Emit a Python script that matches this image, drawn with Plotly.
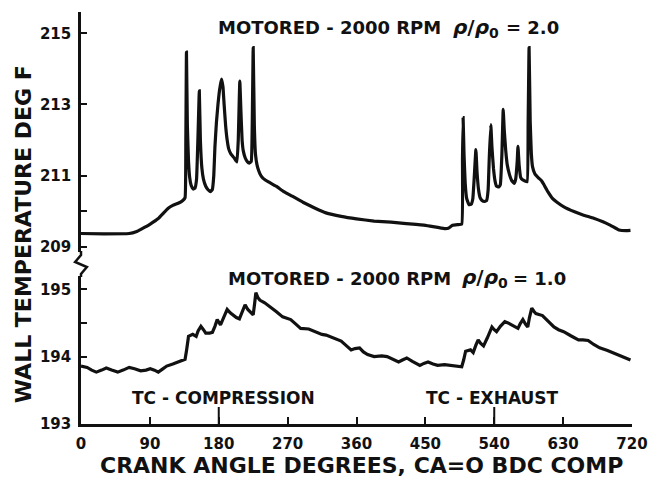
import plotly.graph_objects as go

# Crank angle (deg) and wall temperature (deg F), density ratio 2.0
ca_hi = [0, 30, 63, 72, 80, 90, 101, 108, 114, 120, 127, 133, 136, 137, 137.8, 139, 140.5, 142, 144, 146.5,
         149, 151, 153, 154.6, 156, 158, 160, 163, 166, 169, 171.5, 173.5, 175, 177, 179, 181, 183.5, 185.5,
         187, 189, 191, 193, 196, 200, 203.7, 205.5, 207.5, 209, 210.5, 212, 214.5, 217, 220, 222.5, 223.8,
         225, 226.5, 228, 230, 232, 235, 238, 245, 255, 265, 276, 290, 306, 320, 340, 360, 383, 405, 425,
         450, 475, 480, 485.5, 492, 497.5, 498.5, 499.3, 500.5, 502, 504, 507, 510, 512, 514, 516, 517.5,
         519.5, 521.5, 524, 527, 530, 532, 533.5, 535.5, 537, 539, 541, 543, 546, 548, 550, 551.7, 553, 555,
         557, 560, 563, 566, 568, 570, 571, 572.5, 574.5, 577, 580, 583, 584.3, 585.5, 587, 588.5, 590, 593,
         598, 602, 605, 610, 616, 622, 631, 645, 656, 670, 682, 692, 703, 712, 718]
temp_hi = [209.37, 209.36, 209.37, 209.42, 209.51, 209.63, 209.79, 209.95, 210.08, 210.16, 210.22, 210.30,
           210.38, 212.0, 214.47, 212.4, 211.4, 210.95, 210.72, 210.62, 210.65, 210.9, 212.2, 213.38, 212.0,
           211.2, 210.9, 210.7, 210.6, 210.55, 210.6, 211.0, 211.8, 212.5, 213.0, 213.4, 213.71, 213.5, 213.0,
           212.4, 212.0, 211.75, 211.6, 211.5, 211.38, 212.0, 213.66, 212.8, 212.0, 211.7, 211.5, 211.4,
           211.35, 211.4, 212.5, 214.6, 212.4, 211.6, 211.3, 211.15, 211.0, 210.92, 210.82, 210.7, 210.55,
           210.42, 210.25, 210.08, 209.95, 209.85, 209.78, 209.72, 209.69, 209.65, 209.6, 209.51, 209.52,
           209.6, 209.62, 209.63, 211.5, 212.63, 211.6, 210.8, 210.35, 210.18, 210.2, 210.35, 211.0, 211.73,
           211.1, 210.6, 210.38, 210.3, 210.27, 210.3, 210.6, 211.5, 212.43, 211.8, 211.2, 210.85, 210.7,
           210.68, 210.75, 211.6, 212.86, 212.3, 211.7, 211.3, 211.02, 210.85, 210.78, 210.9, 211.4, 211.82,
           211.3, 210.95, 210.88, 210.85, 210.83, 212.5, 214.6, 212.5, 211.6, 211.25, 211.05, 210.93, 210.85,
           210.74, 210.55, 210.36, 210.25, 210.12, 209.98, 209.89, 209.8, 209.7, 209.6, 209.47, 209.45, 209.46]

# Crank angle (deg) and wall temperature (deg F), density ratio 1.0
ca_lo = [0, 8, 14, 20, 27, 33, 40, 48, 55, 63, 70, 78, 85, 90.5, 96, 101, 106, 112, 120, 127, 132, 136, 138,
         140.5, 146, 150.5, 153, 156.7, 160, 163, 168, 171.7, 175, 178, 182.3, 186, 191, 195, 199.5, 203, 207,
         210, 214.4, 218, 220.8, 225, 227, 228.5, 231, 233.6, 240, 246.4, 255, 263.5, 274, 280, 287, 297.6,
         306, 314.8, 320.3, 330, 340, 347, 353, 358, 364, 369, 374.5, 383, 393, 400, 408, 415, 420, 425.7,
         433, 442.8, 448, 453.5, 460, 466, 475, 485, 497.5, 500, 502.6, 509, 512.5, 516, 519, 522, 526, 531,
         537, 540, 543, 548, 553.8, 558, 562.4, 567, 571, 574, 577.4, 581, 583.8, 586, 589, 592, 594.4, 603,
         610, 618, 624, 630.7, 640, 650, 656, 662.7, 670, 677.7, 688, 699, 709, 718]
temp_lo = [193.86, 193.84, 193.80, 193.77, 193.80, 193.83, 193.80, 193.77, 193.80, 193.84, 193.82, 193.79,
           193.80, 193.82, 193.80, 193.77, 193.81, 193.86, 193.89, 193.92, 193.94, 193.96, 194.10, 194.30,
           194.33, 194.30, 194.38, 194.45, 194.40, 194.35, 194.35, 194.36, 194.45, 194.55, 194.47, 194.58,
           194.70, 194.65, 194.61, 194.58, 194.56, 194.65, 194.77, 194.70, 194.67, 194.62, 194.80, 194.95,
           194.88, 194.84, 194.80, 194.75, 194.67, 194.59, 194.55, 194.49, 194.42, 194.41, 194.37, 194.33,
           194.32, 194.27, 194.23, 194.16, 194.10, 194.12, 194.13, 194.07, 194.03, 194.00, 194.01, 194.00,
           193.96, 193.92, 193.95, 193.98, 193.93, 193.87, 193.90, 193.92, 193.89, 193.87, 193.88, 193.87,
           193.85, 193.95, 194.08, 194.10, 194.06, 194.17, 194.25, 194.20, 194.16, 194.28, 194.44, 194.40,
           194.37, 194.45, 194.52, 194.50, 194.47, 194.45, 194.42, 194.49, 194.55, 194.48, 194.44, 194.58,
           194.72, 194.67, 194.64, 194.61, 194.53, 194.44, 194.40, 194.37, 194.31, 194.25, 194.25, 194.24,
           194.18, 194.13, 194.09, 194.04, 194.00, 193.95]

x_ticks = [0, 90, 180, 270, 360, 450, 540, 630, 720]
hi_ticks = [209, 211, 213, 215]
hi_minor = [210]
lo_ticks = [193, 194, 195]
lo_minor = [194.5]

FONT = "DejaVu Sans"
INK = "#111111"

# figure geometry (pixels)
W, H = 660, 483
L, R, T, B = 81, 17, 12, 59
PW, PH = W - L - R, H - T - B


def px(x):
    return (x - L) / PW


def py(y):
    return (H - B - y) / PH


fig = go.Figure()
fig.add_trace(go.Scatter(x=ca_hi, y=temp_hi, mode="lines", yaxis="y",
                         line=dict(color=INK, width=3.2, shape="spline", smoothing=0.3)))
fig.add_trace(go.Scatter(x=ca_lo, y=temp_lo, mode="lines", yaxis="y2",
                         line=dict(color=INK, width=3.2)))

tickfont = dict(family=FONT, size=15, color=INK, weight="bold")
common_y = dict(showgrid=False, zeroline=False, showline=True, linecolor=INK, linewidth=2.5,
                ticks="inside", ticklen=6, tickwidth=2, tickcolor=INK, tickfont=tickfont,
                ticklabelstandoff=4, anchor="x", fixedrange=True)

fig.update_layout(
    width=W, height=H,
    margin=dict(l=L, r=R, t=T, b=B),
    paper_bgcolor="white", plot_bgcolor="white",
    showlegend=False,
    xaxis=dict(range=[0, 720], tickvals=x_ticks, showgrid=False, zeroline=False, showline=True,
               linecolor=INK, linewidth=2.5, ticks="inside", ticklen=7, tickwidth=2, tickcolor=INK,
               tickfont=tickfont, anchor="y2", ticklabelstandoff=4),
    yaxis=dict(domain=[py(252), 1], range=[208.85, 215.6], tickvals=hi_ticks,
               minor=dict(tickmode="array", tickvals=hi_minor, ticks="inside", ticklen=6,
                          tickwidth=2, tickcolor=INK, showgrid=False),
               **common_y),
    yaxis2=dict(domain=[0, py(276)], range=[193, 195.197], tickvals=lo_ticks,
                minor=dict(tickmode="array", tickvals=lo_minor, ticks="inside", ticklen=6,
                           tickwidth=2, tickcolor=INK, showgrid=False),
                **common_y),
)

# axis break zig-zag on the temperature axis
brk = [(81, 251), (81, 255), (75, 262), (87, 267), (81, 274), (81, 277)]
path = "M " + " L ".join(f"{px(a):.4f},{py(b):.4f}" for a, b in brk)
fig.add_shape(type="path", path=path, xref="paper", yref="paper",
              line=dict(color=INK, width=2.5))

# longer marks at top dead centre positions
for tdc in (180, 540):
    fig.add_shape(type="line", xref="x", yref="paper", x0=tdc, x1=tdc, y0=0, y1=17 / PH,
                  line=dict(color=INK, width=2))

lab = dict(family=FONT, size=18, color=INK, weight="bold")
rho = dict(family=FONT, size=20, color=INK, weight="bold")


def note(text, x, y, font, anchor="left"):
    fig.add_annotation(text=text, x=px(x), y=py(y), xref="paper", yref="paper",
                       xanchor=anchor, yanchor="middle", showarrow=False, font=font)


note("MOTORED - 2000 RPM", 219, 28, lab)
note("<i>ρ</i>/<i>ρ</i><sub>0</sub>", 458, 28, rho)
note("= 2.0", 512, 28, lab)
note("MOTORED - 2000 RPM", 229, 278, lab)
note("<i>ρ</i>/<i>ρ</i><sub>0</sub>", 468, 278, rho)
note("= 1.0", 520, 278, lab)
note("TC - COMPRESSION", 226, 398, dict(family=FONT, size=17, color=INK, weight="bold"), "center")
note("TC - EXHAUST", 501, 398, dict(family=FONT, size=17, color=INK, weight="bold"), "center")

note("CRANK ANGLE DEGREES, CA=O BDC COMP", 367, 465,
     dict(family=FONT, size=22, color=INK, weight="bold"), "center")
fig.add_annotation(text="WALL TEMPERATURE DEG F", x=px(22), y=py(234), xref="paper", yref="paper",
                   xanchor="center", yanchor="middle", textangle=-90, showarrow=False,
                   font=dict(family=FONT, size=22, color=INK, weight="bold"))

fig.write_html("out.html")
